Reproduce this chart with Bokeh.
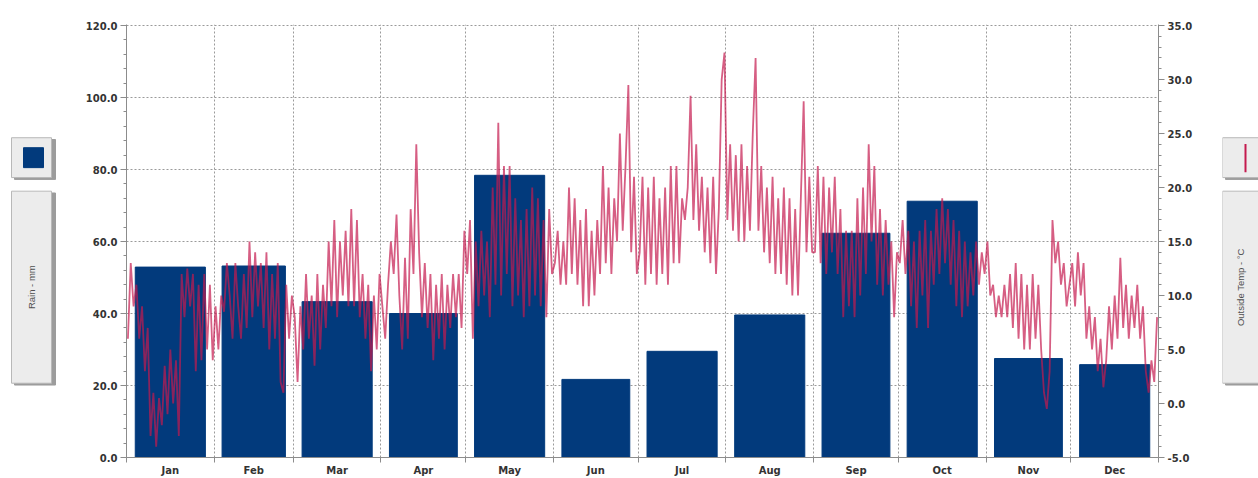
from math import pi
from bokeh.plotting import figure
from bokeh.layouts import row
from bokeh.models import Range1d, LinearAxis, FixedTicker, PrintfTickFormatter, ColumnDataSource
from bokeh.core.properties import value
from bokeh.embed import file_html
from bokeh.resources import INLINE

months = ["Jan", "Feb", "Mar", "Apr", "May", "Jun", "Jul", "Aug", "Sep", "Oct", "Nov", "Dec"]
month_days = [31, 28, 31, 30, 31, 30, 31, 31, 30, 31, 30, 31]
rain_mm = [52.9, 53.2, 43.3, 40.0, 78.4, 21.7, 29.5, 39.6, 62.3, 71.2, 27.5, 25.8]

# outside temperature readings (deg C), month by month
temp_jan = [6, 13, 9, 11, 6, 9, 3, 7, -3, 1, -4, 0.5, -2, 3.5, -1, 5, 0, 4, -3, 12, 8, 12.5, 9, 12, 3, 11, 4, 12, 5, 11, 4]
temp_feb = [9, 5, 10, 8.5, 13, 10, 6, 13, 9, 6, 12, 7, 15, 8, 14, 9, 13, 7, 14, 5, 12, 6, 13, 2, 1, 11, 6, 10]
temp_mar = [8, 2, 9, 5, 12, 6, 10, 3.5, 12, 5, 11, 7, 15, 9, 17, 8, 15, 10, 16, 9, 18, 9, 17, 8, 12, 6, 11, 3, 10, 5, 12]
temp_apr = [9, 6, 11, 15, 12, 17.5, 10, 5, 13.5, 6, 18, 12, 24, 14, 8, 13, 7, 12, 4, 11, 6, 12, 5, 11, 7, 12, 8, 12, 7, 16]
temp_may = [12, 17, 6, 15, 9, 16, 10, 15, 8, 20, 11, 26, 10, 22, 12, 22, 9, 19, 10, 17, 8, 18, 9, 20, 10, 19, 9, 17, 8, 18, 12]
temp_jun = [13, 16, 11, 15, 11, 20, 12, 19, 11, 17, 9, 18, 9, 16, 10, 17, 12, 22, 13, 20, 12, 19, 15, 25, 16, 22, 29.5, 14, 21, 12]
temp_jul = [14, 21, 11, 20, 12, 21, 11, 19, 12, 20, 11, 22, 13, 22, 13, 19, 17, 20, 28.5, 17, 24, 16, 21, 14, 20, 13, 21, 12, 18, 30, 32.5]
temp_aug = [17, 24, 16, 23, 15, 24, 15, 22, 16, 25, 32, 16, 22, 14, 20, 13, 21, 12, 19, 12, 20, 11, 19, 10, 18, 10, 19, 28, 14, 21, 14]
temp_sep = [14, 22, 13, 21, 12, 20, 14, 21, 12, 18, 8, 16, 9, 16, 8, 19, 10, 20, 12, 24, 15, 22, 11, 18, 10, 17, 11, 15, 8, 14]
temp_oct = [13, 17, 12, 16, 9, 15, 7, 16, 10, 17, 7, 16, 11, 18, 12, 19, 13, 18, 11, 17, 9, 16, 8, 15, 9, 14, 10, 15, 11, 14, 12]
temp_nov = [15, 10, 11, 8, 10, 8, 11, 8, 12, 7, 13, 6, 12, 5, 11, 5, 12, 6, 11, 5, 1, -0.5, 3, 17, 13, 15, 11, 13, 9, 11]
temp_dec = [13, 9, 14, 10, 13, 6, 9, 5, 8, 3, 6, 1.5, 4, 9, 5, 10, 6, 13.5, 7, 11, 6, 10, 7, 11, 6, 9, 3, 1, 4, 2, 8]
temp_months = [temp_jan, temp_feb, temp_mar, temp_apr, temp_may, temp_jun,
               temp_jul, temp_aug, temp_sep, temp_oct, temp_nov, temp_dec]

rain_ticks = [0, 20, 40, 60, 80, 100, 120]
temp_ticks = [-5, 0, 5, 10, 15, 20, 25, 30, 35]

# ---- derived positions (day-of-year axis) ----
bounds = [0]
for d in month_days:
    bounds.append(bounds[-1] + d)
mids = [(bounds[i] + bounds[i + 1]) / 2 for i in range(12)]
widths = [0.8 * d for d in month_days]

tx, ty = [], []
for m, vals in enumerate(temp_months):
    n = len(vals)
    for i, v in enumerate(vals):
        tx.append(bounds[m] + (i + 0.5) * month_days[m] / n)
        ty.append(v)

BAR = "#023a7c"
RED = "#c41a4e"
TXT = "#333333"
AX = "#8c8c8c"
FONT = "DejaVu Sans"
H = 478

p = figure(width=1162, height=H, x_range=Range1d(0, 365), y_range=Range1d(0, 120.3),
           output_backend="svg", toolbar_location=None,
           min_border_left=66, min_border_right=64, min_border_top=24, min_border_bottom=0,
           outline_line_color=None, background_fill_color="white", border_fill_color="white")
p.extra_y_ranges = {"temp": Range1d(-5, -5 + 40 * 120.3 / 120)}

p.vbar(source=ColumnDataSource(dict(x=mids, top=rain_mm, w=widths)),
       x="x", top="top", width="w", bottom=0, fill_color=BAR, line_color=BAR, line_width=1)
p.line(tx, ty, y_range_name="temp", line_color=RED, line_alpha=0.7, line_width=1.8)

# left axis (rain)
ya = p.yaxis[0]
ya.ticker = FixedTicker(ticks=rain_ticks, minor_ticks=list(range(0, 121, 4)))
ya.formatter = PrintfTickFormatter(format="%.1f")

# right axis (temp)
ra = LinearAxis(y_range_name="temp",
                ticker=FixedTicker(ticks=temp_ticks, minor_ticks=list(range(-5, 36))),
                formatter=PrintfTickFormatter(format="%.1f"))
p.add_layout(ra, "right")

for ax in (ya, ra):
    ax.axis_line_color = AX
    ax.major_tick_line_color = AX
    ax.minor_tick_line_color = AX
    ax.major_tick_out = 6
    ax.major_tick_in = 0
    ax.minor_tick_out = 3
    ax.minor_tick_in = 0
    ax.major_label_standoff = 3
    ax.major_label_text_font = FONT
    ax.major_label_text_font_size = "10px"
    ax.major_label_text_font_style = "bold"
    ax.major_label_text_color = TXT

xa = p.xaxis[0]
xa.ticker = FixedTicker(ticks=mids, minor_ticks=bounds)
xa.major_label_overrides = {mids[i]: months[i] for i in range(12)}
xa.axis_line_color = AX
xa.major_tick_out = 0
xa.major_tick_in = 0
xa.minor_tick_out = 5
xa.minor_tick_in = 0
xa.minor_tick_line_color = AX
xa.major_label_standoff = 2
xa.major_label_text_font = FONT
xa.major_label_text_font_size = "10px"
xa.major_label_text_font_style = "bold"
xa.major_label_text_color = TXT

p.xgrid.ticker = FixedTicker(ticks=bounds)
for g in (p.xgrid[0], p.ygrid[0]):
    g.grid_line_color = "#9a9a9a"
    g.grid_line_dash = "2 2"
    g.grid_line_width = 1


# legend side panels (page-like pixel coordinates, y downward)
def side_panel(w):
    f = figure(width=w, height=H, x_range=Range1d(0, w), y_range=Range1d(H, 0),
               output_backend="svg", toolbar_location=None, min_border=0,
               x_axis_location=None, y_axis_location=None, outline_line_color=None,
               background_fill_color="white", border_fill_color="white")
    f.xgrid.visible = False
    f.ygrid.visible = False
    return f

def panel_boxes(f, x0, x1):
    f.quad(left=[x0 + 3, x0 + 3], right=[x1 + 4, x1 + 4], top=[127, 186], bottom=[171, 398],
           fill_color="#9c9c9c", line_color="#9c9c9c")
    f.quad(left=[x0, x0], right=[x1, x1], top=[125, 184], bottom=[169, 396],
           fill_color="#ececec", line_color="#b8b8b8")

left = side_panel(60)
panel_boxes(left, 11, 51)
left.quad(left=[23], right=[43], top=[136], bottom=[158], fill_color=BAR, line_color=BAR)
left.text(x=[31], y=[290], text=["Rain - mm"], angle=pi / 2, text_align="center",
          text_baseline="middle", text_font=value("Liberation Sans"),
          text_font_size=value("9.5px"), text_color="#505050")

right = side_panel(36)
panel_boxes(right, 0, 44)
right.quad(left=[22], right=[24], top=[132], bottom=[163], fill_color=RED, line_color=None)
right.text(x=[18], y=[290], text=["Outside Temp - \u00b0C"], angle=pi / 2, text_align="center",
           text_baseline="middle", text_font=value("Liberation Sans"),
           text_font_size=value("9.5px"), text_color="#505050")

layout = row(left, p, right)
open("out.html", "w").write(file_html(layout, INLINE))
